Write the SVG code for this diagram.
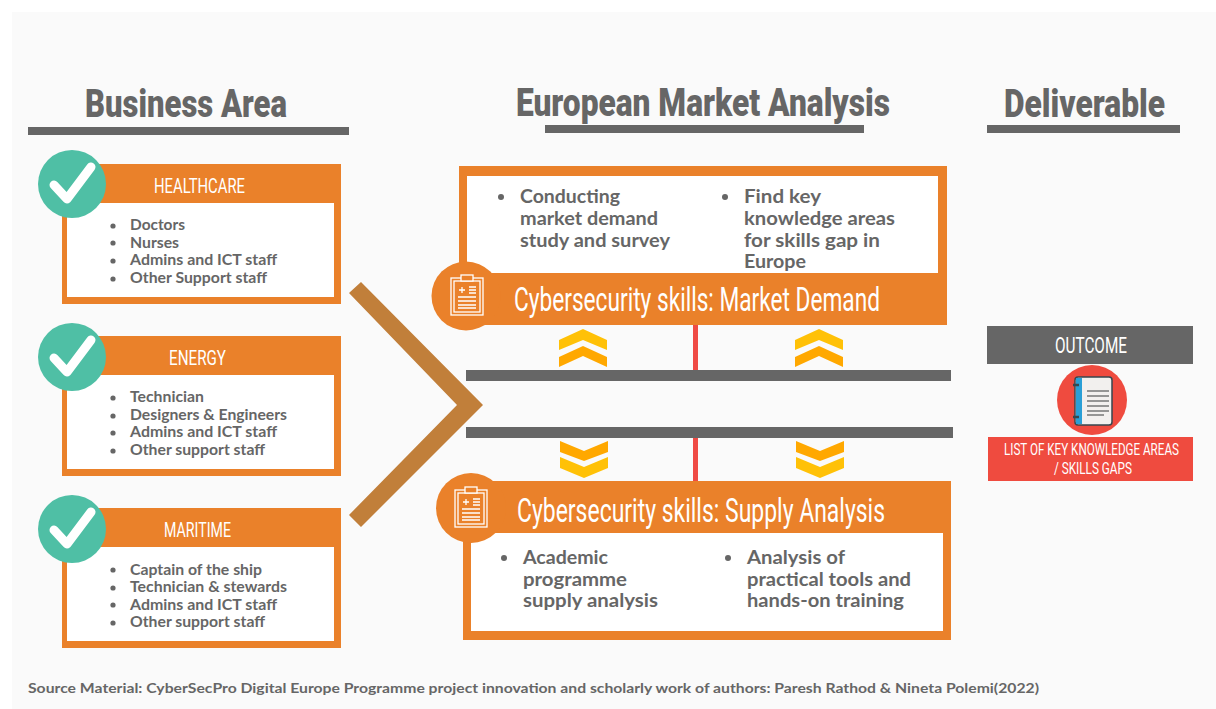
<svg xmlns="http://www.w3.org/2000/svg" width="1216" height="709" viewBox="0 0 1216 709">
<defs>
<style>
.o{fill:#ea812a}
.w{fill:#fff}
.g{fill:#666}
.h{font-family:"Roboto","Liberation Sans",sans-serif;font-weight:900;fill:#666;font-size:38px}
.c{font-family:"Roboto","Liberation Sans",sans-serif;font-weight:400;fill:#fff}
.b{font-family:"Lato","Noto Sans",sans-serif;font-weight:700;fill:#666;font-size:14.500px}
.m{font-family:"Lato","Noto Sans",sans-serif;font-weight:700;fill:#666;font-size:18.500px}
.ln{fill:none;stroke:#fff;stroke-width:1.3}
</style>
<g id="check"><circle cx="0" cy="0" r="34" fill="#4fbfa5"/><path d="M-18,1 L-5,15 L19,-17" fill="none" stroke="#fff" stroke-width="9" stroke-linecap="round" stroke-linejoin="round"/></g>
<g id="clip"><rect x="-16" y="-18" width="32" height="37" class="ln"/><rect x="-13" y="-15" width="26" height="31" class="ln"/><rect x="-6" y="-21" width="12" height="6" class="o" stroke="#fff" stroke-width="1.3"/><path d="M-8,-6H-2M-5,-9V-3M2,-9H9M2,-6H9M2,-3H9M-9,1H9M-9,5H9M-9,9H9M-9,12H9" class="ln"/></g>
<g id="up"><path d="M-24,-8 L0,-19 L24,-8 V2 L0,-8 L-24,2Z" fill="#ffc107"/><path d="M-24,9 L0,-2 L24,9 V19 L0,8 L-24,19Z" fill="#ffa800"/></g>
<g id="down"><path d="M-24,-18 L0,-8 L24,-18 V-7 L0,2 L-24,-7Z" fill="#ffa800"/><path d="M-24,-2 L0,8 L24,-2 V9 L0,19 L-24,9Z" fill="#ffc107"/></g>
</defs>
<rect x="0" y="0" width="1216" height="709" fill="#fff"/>
<rect id="bg" x="12" y="12" width="1204" height="697" fill="#fafafa"/>

<g id="headers">
<text class="h" x="85" y="117" textLength="202" lengthAdjust="spacingAndGlyphs">Business Area</text>
<rect class="g" x="28" y="127" width="321" height="8"/>
<text class="h" x="516" y="116" textLength="374" lengthAdjust="spacingAndGlyphs">European Market Analysis</text>
<rect class="g" x="545" y="125" width="319" height="8"/>
<text class="h" x="1004" y="117" textLength="161" lengthAdjust="spacingAndGlyphs">Deliverable</text>
<rect class="g" x="987" y="125" width="193" height="8"/>
</g>

<g id="connectors">
<path d="M349,293 L361,282 L483,405 L361,527 L349,515 L457,405Z" fill="#c17f3a"/>
<rect class="g" x="466" y="370" width="485" height="11"/>
<rect class="g" x="466" y="427" width="487" height="11"/>
<rect x="693" y="325" width="5" height="45" fill="#ef4b45"/>
<rect x="693" y="438" width="5" height="44" fill="#ef4b45"/>
<use href="#up" x="583" y="348"/>
<use href="#up" x="819" y="348"/>
<use href="#down" x="584" y="459"/>
<use href="#down" x="820" y="459"/>
</g>

<g id="healthcare">
<rect class="o" x="62" y="164" width="279" height="140"/>
<rect class="w" x="67" y="203" width="267" height="94"/>
<use href="#check" x="72" y="184"/>
<text class="c" x="154" y="193" font-size="21" textLength="91" lengthAdjust="spacingAndGlyphs">HEALTHCARE</text>
<circle class="g" cx="113" cy="226" r="2.6"/><text class="b" x="130" y="230" textLength="55" lengthAdjust="spacingAndGlyphs">Doctors</text>
<circle class="g" cx="113" cy="243" r="2.6"/><text class="b" x="130" y="248" textLength="49" lengthAdjust="spacingAndGlyphs">Nurses</text>
<circle class="g" cx="113" cy="261" r="2.6"/><text class="b" x="130" y="265" textLength="147" lengthAdjust="spacingAndGlyphs">Admins and ICT staff</text>
<circle class="g" cx="113" cy="279" r="2.6"/><text class="b" x="130" y="283" textLength="137" lengthAdjust="spacingAndGlyphs">Other Support staff</text>
</g>

<g id="energy">
<rect class="o" x="62" y="336" width="279" height="140"/>
<rect class="w" x="67" y="375" width="267" height="94"/>
<use href="#check" x="72" y="357"/>
<text class="c" x="169" y="365" font-size="21" textLength="57" lengthAdjust="spacingAndGlyphs">ENERGY</text>
<circle class="g" cx="113" cy="398" r="2.6"/><text class="b" x="130" y="402" textLength="74" lengthAdjust="spacingAndGlyphs">Technician</text>
<circle class="g" cx="113" cy="416" r="2.6"/><text class="b" x="130" y="420" textLength="157" lengthAdjust="spacingAndGlyphs">Designers &amp; Engineers</text>
<circle class="g" cx="113" cy="433" r="2.6"/><text class="b" x="130" y="437" textLength="147" lengthAdjust="spacingAndGlyphs">Admins and ICT staff</text>
<circle class="g" cx="113" cy="451" r="2.6"/><text class="b" x="130" y="455" textLength="135" lengthAdjust="spacingAndGlyphs">Other support staff</text>
</g>

<g id="maritime">
<rect class="o" x="62" y="508" width="279" height="140"/>
<rect class="w" x="67" y="547" width="267" height="94"/>
<use href="#check" x="72" y="529"/>
<text class="c" x="164" y="537" font-size="21" textLength="67" lengthAdjust="spacingAndGlyphs">MARITIME</text>
<circle class="g" cx="113" cy="570" r="2.6"/><text class="b" x="130" y="575" textLength="132" lengthAdjust="spacingAndGlyphs">Captain of the ship</text>
<circle class="g" cx="113" cy="588" r="2.6"/><text class="b" x="130" y="592" textLength="157" lengthAdjust="spacingAndGlyphs">Technician &amp; stewards</text>
<circle class="g" cx="113" cy="605" r="2.6"/><text class="b" x="130" y="610" textLength="147" lengthAdjust="spacingAndGlyphs">Admins and ICT staff</text>
<circle class="g" cx="113" cy="623" r="2.6"/><text class="b" x="130" y="627" textLength="135" lengthAdjust="spacingAndGlyphs">Other support staff</text>
</g>

<g id="market-demand">
<rect class="o" x="459" y="166" width="488" height="159"/>
<rect class="w" x="467" y="176" width="471" height="97"/>
<circle class="o" cx="466" cy="296" r="34.500"/>
<use href="#clip" x="467" y="296"/>
<text class="c" x="514" y="311" font-size="34" textLength="366" lengthAdjust="spacingAndGlyphs">Cybersecurity skills: Market Demand</text>
<circle class="g" cx="501" cy="197" r="3"/>
<text class="m" x="520" y="203" textLength="100" lengthAdjust="spacingAndGlyphs">Conducting</text><text class="m" x="520" y="225" textLength="138" lengthAdjust="spacingAndGlyphs">market demand</text><text class="m" x="520" y="247" textLength="150" lengthAdjust="spacingAndGlyphs">study and survey</text>
<circle class="g" cx="725" cy="197" r="3"/>
<text class="m" x="744" y="203" textLength="77" lengthAdjust="spacingAndGlyphs">Find key</text><text class="m" x="744" y="225" textLength="151" lengthAdjust="spacingAndGlyphs">knowledge areas</text><text class="m" x="744" y="247" textLength="136" lengthAdjust="spacingAndGlyphs">for skills gap in</text><text class="m" x="744" y="268" textLength="62" lengthAdjust="spacingAndGlyphs">Europe</text>
</g>

<g id="supply-analysis">
<rect class="o" x="463" y="481" width="488" height="159"/>
<rect class="w" x="471" y="533" width="472" height="98"/>
<circle class="o" cx="471" cy="508" r="35"/>
<use href="#clip" x="471" y="508"/>
<text class="c" x="517" y="522" font-size="34" textLength="368" lengthAdjust="spacingAndGlyphs">Cybersecurity skills: Supply Analysis</text>
<circle class="g" cx="504" cy="558" r="3"/>
<text class="m" x="523" y="564" textLength="85" lengthAdjust="spacingAndGlyphs">Academic</text><text class="m" x="523" y="586" textLength="104" lengthAdjust="spacingAndGlyphs">programme</text><text class="m" x="523" y="607" textLength="135" lengthAdjust="spacingAndGlyphs">supply analysis</text>
<circle class="g" cx="728" cy="558" r="3"/>
<text class="m" x="747" y="564" textLength="98" lengthAdjust="spacingAndGlyphs">Analysis of</text><text class="m" x="747" y="586" textLength="164" lengthAdjust="spacingAndGlyphs">practical tools and</text><text class="m" x="747" y="607" textLength="157" lengthAdjust="spacingAndGlyphs">hands-on training</text>
</g>

<g id="outcome">
<rect class="g" x="987" y="326" width="206" height="38"/>
<text class="c" x="1055" y="353" font-size="22" textLength="72" lengthAdjust="spacingAndGlyphs">OUTCOME</text>
<circle cx="1092" cy="400" r="35" fill="#ef4b3f"/>
<rect x="1075" y="377" width="37" height="48" rx="3" fill="#f2f0ee" stroke="#37474f" stroke-width="1.500"/>
<rect x="1076" y="378" width="6" height="46" fill="#2a9fd6"/>
<path d="M1073,385H1079M1073,417H1079" stroke="#37474f" stroke-width="2.500"/>
<path d="M1087,391H1109M1087,396H1109M1087,401H1109M1087,406H1109M1087,411H1109M1087,415H1104" stroke="#777" stroke-width="1.500"/>
<rect x="988" y="437" width="205" height="44" fill="#ef4b3f"/>
<text class="c" transform="translate(1004,455) scale(.66,1)" font-size="17" textLength="265" lengthAdjust="spacingAndGlyphs">LIST OF KEY KNOWLEDGE AREAS</text>
<text class="c" transform="translate(1054,474) scale(.66,1)" font-size="17" textLength="118" lengthAdjust="spacingAndGlyphs">/ SKILLS GAPS</text>
</g>

<text id="source" x="28" y="693" font-family="Lato,'Noto Sans',sans-serif" font-weight="700" font-size="14" fill="#666" textLength="1011" lengthAdjust="spacingAndGlyphs">Source Material: CyberSecPro Digital Europe Programme project innovation and scholarly work of authors: Paresh Rathod &amp; Nineta Polemi(2022)</text>
</svg>
